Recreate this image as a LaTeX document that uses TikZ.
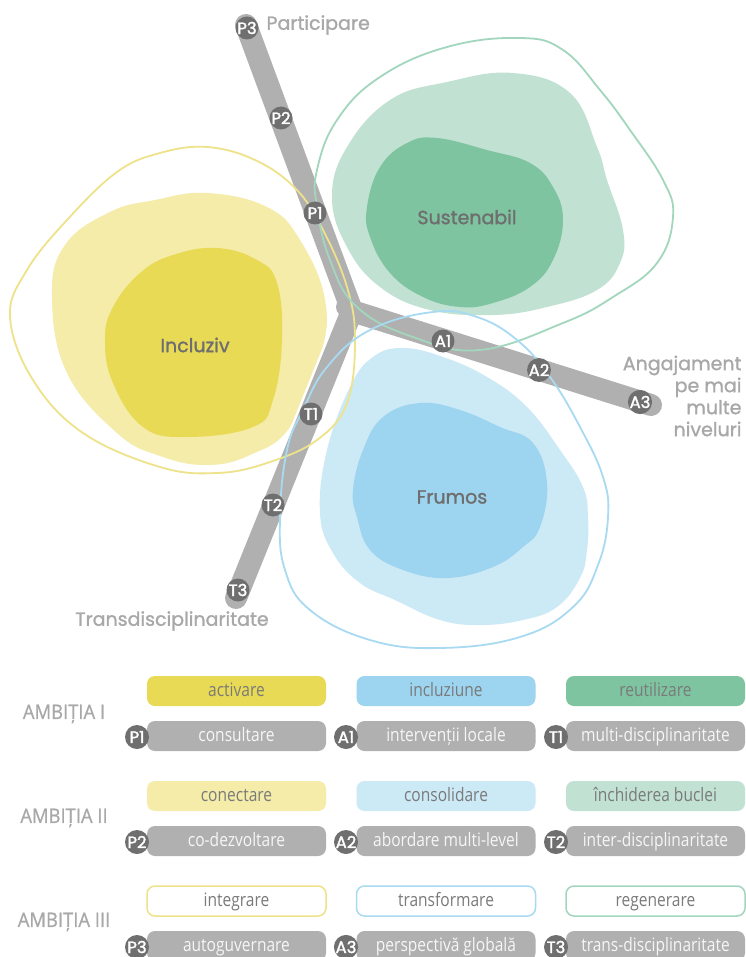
\documentclass[tikz,border=0pt]{standalone}
\usepackage{fontspec}
\setmainfont{Open Sans}
\newfontfamily\labfont{Poppins}[FakeBold=1.2]
\newfontfamily\markfont{Poppins}[FakeBold=1.8]
\newfontfamily\ambfont{Open Sans}[FakeBold=0.8, FakeStretch=0.92]
\newfontfamily\tabfont{Open Sans}[FakeStretch=0.84]
\usetikzlibrary{calc}
\definecolor{ydark}{HTML}{E8DA55}
\definecolor{ylight}{HTML}{F4ECA8}
\definecolor{yline}{HTML}{EEE28A}
\definecolor{bdark}{HTML}{9DD4EF}
\definecolor{blight}{HTML}{CCE9F6}
\definecolor{bline}{HTML}{A8DAF2}
\definecolor{gdark}{HTML}{7FC4A0}
\definecolor{glight}{HTML}{C1E2D2}
\definecolor{gline}{HTML}{A2D6BD}
\definecolor{armgray}{HTML}{B0B0B0}
\definecolor{markgray}{HTML}{6F6F6F}
\definecolor{labgray}{HTML}{A8A8A8}
\definecolor{blobtxt}{HTML}{6E6E6E}
\definecolor{boxtxt}{HTML}{7A7A7A}
\definecolor{graytxt}{HTML}{F6F6F6}
\tikzset{
  outl/.style={line width=1.8pt},
  marker/.style={circle, fill=markgray, minimum size=23pt, inner sep=0pt,
    text=white, font=\markfont\fontsize{16.5}{16}\selectfont},
  bloblab/.style={text=blobtxt, font=\labfont\fontsize{19}{20}\selectfont},
  sidelab/.style={text=labgray, font=\labfont\fontsize{19}{22}\selectfont},
  tabbox/.style={rounded corners=8pt, minimum width=179pt, minimum height=30pt,
    inner sep=0pt, text height=13pt, text depth=2pt,
    font=\tabfont\fontsize{18.5}{20}\selectfont},
  colbox/.style={tabbox, text=boxtxt},
  graybox/.style={tabbox, fill=armgray, text=graytxt},
  linebox/.style={tabbox, fill=white, draw, line width=1.5pt, text=boxtxt},
  ambi/.style={text=labgray, font=\ambfont\fontsize{20}{22}\selectfont},
  tmark/.style={marker, minimum size=24pt}
}
\begin{document}
\begin{tikzpicture}[x=1pt,y=-1pt]
\useasboundingbox[fill=white] (0,0) rectangle (745,957);

% ---------- blob fills ----------
% yellow
\fill[ylight] plot[smooth cycle, tension=0.7] coordinates {
 (207,193) (267,207) (300,240) (325,300) (320,357) (290,427) (250,455)
 (207,465) (160,456) (117,433) (67,373) (52,297) (65,245) (110,212) (155,200)};
\fill[ydark] plot[smooth cycle, tension=0.7] coordinates {
 (217,248) (257,260) (277,283) (282,340) (273,400) (253,427) (187,437)
 (143,427) (113,383) (105,340) (113,307) (140,273) (173,255)};
% green
\fill[glight] plot[smooth cycle, tension=0.7] coordinates {
 (513,73) (570,93) (597,147) (607,180) (623,230) (620,263) (597,290)
 (547,307) (493,315) (430,310) (380,287) (347,247) (332,197) (347,147)
 (390,100) (447,82)};
\fill[gdark] plot[smooth cycle, tension=0.7] coordinates {
 (437,138) (487,150) (530,163) (553,187) (563,220) (553,260) (530,287)
 (493,303) (460,307) (423,297) (390,273) (370,237) (367,207) (380,167) (407,143)};
% blue
\fill[blight] plot[smooth cycle, tension=0.7] coordinates {
 (403,348) (443,357) (487,377) (527,407) (560,450) (583,487) (588,517)
 (587,550) (580,578) (557,607) (523,620) (480,625) (440,620) (395,600)
 (360,583) (333,553) (320,513) (327,450) (350,387) (373,357)};
\fill[bdark] plot[smooth cycle, tension=0.7] coordinates {
 (420,403) (460,410) (500,427) (533,443) (547,483) (540,527) (523,547)
 (493,567) (447,578) (403,570) (370,550) (357,517) (353,490) (363,450) (383,417)};

% ---------- arms ----------
\coordinate (J) at (352,311);
\coordinate (Pe) at (246,25);
\coordinate (Ae) at (651,405);
\coordinate (Te) at (236,598);
\draw[white, line width=27pt, line cap=round, line join=miter] (Pe) -- (J) -- (Ae);
\draw[white, line width=27pt, line cap=round, line join=miter] (J) -- (Te);
\draw[armgray, line width=22pt, line cap=round, line join=miter] (Pe) -- (J) -- (Ae);
\draw[armgray, line width=22pt, line cap=round, line join=miter] (J) -- (Te);
\fill[armgray] ($(J)+(-6,-4)$) circle (10pt);

% ---------- blob outlines ----------
\draw[outl, yline] plot[smooth cycle, tension=0.65] coordinates {
 (207,147) (255,160) (295,188) (322,228) (347,287) (355,340) (347,403) (317,440)
 (267,463) (217,473) (160,467) (83,433) (33,380) (10,317) (27,270)
 (67,220) (117,172) (160,153)};
\draw[outl, gline] plot[smooth cycle, tension=0.7] coordinates {
 (520,38) (563,50) (600,90) (630,130) (663,180) (673,217) (657,263)
 (613,297) (563,323) (480,350) (413,337) (357,307) (330,260) (317,207)
 (317,170) (337,120) (380,77) (447,47)};
\draw[outl, bline] plot[smooth cycle, tension=0.7] coordinates {
 (433,312) (477,317) (517,340) (550,377) (580,427) (603,477) (608,517)
 (598,565) (573,607) (520,637) (440,648) (370,640) (310,610) (285,570)
 (280,517) (287,450) (303,410) (327,367) (370,330)};

% ---------- markers ----------
\node[marker] (p3) at (247,28) {P3};
\node[marker] (p2) at (281,118) {P2};
\node[marker] (p1) at (315,213) {P1};
\node[marker] (a1) at (443,341) {A1};
\node[marker] (a2) at (539,370) {A2};
\node[marker] (a3) at (640,402) {A3};
\node[marker] (t1) at (311,414) {T1};
\node[marker] (t2) at (273,505) {T2};
\node[marker] (t3) at (238,590) {T3};

% ---------- labels ----------
\node[bloblab] (incl) at (195,345) {Incluziv};
\node[bloblab] (sust) at (467,217) {Sustenabil};
\node[bloblab] (frum) at (452,497) {Frumos};
\node[sidelab, anchor=west] (part) at (263,25) {Participare};
\node[sidelab, anchor=east, align=right] (anga) at (745,396) {Angajament\\pe mai\\multe\\niveluri};
\node[sidelab] (trans) at (172,621) {Transdisciplinaritate};

% ---------- table ----------
\node[ambi] (am1) at (64,714) {AMBIȚIA I};
\node[ambi] (am2) at (64,818) {AMBIȚIA II};
\node[ambi] (am3) at (64,922) {AMBIȚIA III};

\node[colbox, fill=ydark] (c11) at (236.5,691) {activare};
\node[colbox, fill=bdark] (c12) at (446,691) {incluziune};
\node[colbox, fill=gdark] (c13) at (655.5,691) {reutilizare};
\node[graybox] (g11) at (236.5,736) {consultare};
\node[graybox] (g12) at (446,736) {intervenții locale};
\node[graybox] (g13) at (655.5,736) {multi-disciplinaritate};

\node[colbox, fill=ylight] (c21) at (236.5,796) {conectare};
\node[colbox, fill=blight] (c22) at (446,796) {consolidare};
\node[colbox, fill=glight] (c23) at (655.5,796) {închiderea buclei};
\node[graybox] (g21) at (236.5,841) {co-dezvoltare};
\node[graybox] (g22) at (446,841) {abordare multi-level};
\node[graybox] (g23) at (655.5,841) {inter-disciplinaritate};

\node[linebox, draw=yline] (c31) at (236.5,901) {integrare};
\node[linebox, draw=bline] (c32) at (446,901) {transformare};
\node[linebox, draw=gline] (c33) at (655.5,901) {regenerare};
\node[graybox] (g31) at (236.5,946) {autoguvernare};
\node[graybox] (g32) at (446,946) {perspectivă globală};
\node[graybox] (g33) at (655.5,946) {trans-disciplinaritate};

\node[tmark] (tp1) at (137,737) {P1};
\node[tmark] (ta1) at (346,737) {A1};
\node[tmark] (tt1) at (556,737) {T1};
\node[tmark] (tp2) at (137,842) {P2};
\node[tmark] (ta2) at (346,842) {A2};
\node[tmark] (tt2) at (556,842) {T2};
\node[tmark] (tp3) at (137,947) {P3};
\node[tmark] (ta3) at (346,947) {A3};
\node[tmark] (tt3) at (556,947) {T3};
\end{tikzpicture}
\end{document}
